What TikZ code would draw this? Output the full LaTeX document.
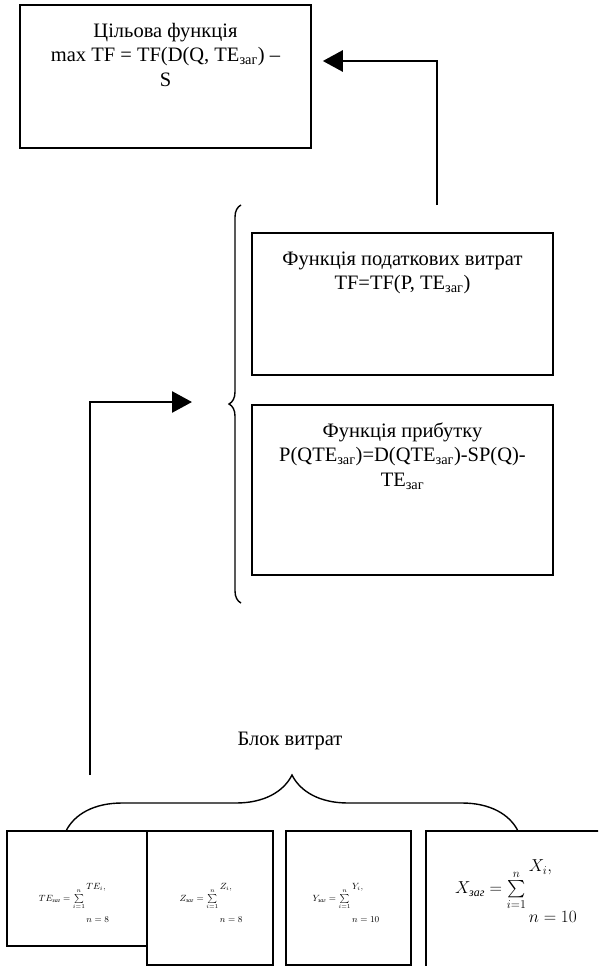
\documentclass[tikz,border=0pt]{standalone}
\usepackage{fontspec}
\setmainfont{Liberation Serif}
\usepackage{amsmath}
\usetikzlibrary{arrows.meta,decorations.pathreplacing}

\tikzset{
    fbox/.style={draw, line width=1.6pt, inner sep=0pt},
    conn/.style={line width=2.6pt, -{Triangle[length=20pt,width=21pt]}},
    brc/.style={decorate, decoration={brace, amplitude=#1}, line width=1.4pt},
    txt/.style={font=\fontsize{20.5}{24.5}\selectfont},
}
\newcommand{\zag}{\textsubscript{заг}}
\newcommand{\boxtxt}[3]{\parbox[c][#2][t]{#1}{\centering\rule{0pt}{32pt}#3}}
\newcommand{\sumf}[3][1.8em]{$#2_{\text{\itshape заг}}=\sum\limits_{i=1}^{n}\rlap{\raisebox{1.3em}{$#2_i,$}}\raisebox{-#1}{$n=#3$}$}

\begin{document}
\begin{tikzpicture}[x=1pt,y=-1pt]
        \useasboundingbox (0,0) rectangle (598,966);
        \clip (0,0) rectangle (598,966);

        %functions:
        \node[fbox, txt] (goal) at (165.5,76.5) {\boxtxt{291pt}{143pt}{Цільова функція\\ max TF = TF(D(Q, TE\zag) –\\ S}};
        \node[fbox, txt] (tax) at (402.5,304) {\boxtxt{301pt}{142pt}{Функція податкових витрат\\ TF=TF(P, TE\zag)}};
        \node[fbox, txt] (profit) at (402.5,490) {\boxtxt{301pt}{170pt}{Функція прибутку\\ P(QTE\zag)=D(QTE\zag)-SP(Q)-\\ TE\zag}};

        \draw[brc=12pt] (241,603) -- (241,205);
        \coordinate (bracetip) at (229,402);

        %costs:
        \foreach \x/\y/\w/\h/\n in {77/888.5/140/115/bte,210/898/126/134/bz,348.5/898/125/134/by,523/915.5/194/169/bx}{
            \node[fbox, minimum width=\w pt, minimum height=\h pt] (\n) at (\x,\y) {};
        }
        \foreach \x/\q/\m/\n in {74/TE/8/fte,211/Z/8/fz,346/Y/10/fy}{
            \node[font=\fontsize{9}{10}\selectfont] (\n) at (\x,903) {\sumf[2.4em]{\q}{\m}};
        }
        \node[font=\fontsize{17}{20}\selectfont] (fx) at (516,891) {\sumf[1.7em]{X}{10}};

        \draw[brc=56pt] (66,831) -- (518,831);
        \node[txt] (costlbl) at (290,741) {Блок витрат};

        %arrows:
        \coordinate (costfoot) at (90,775);
        \draw[conn, shorten >=37pt] (costfoot) |- (bracetip);
        \coordinate (topfoot) at (437,205);
        \coordinate (topbend) at (437,61);
        \draw[conn, shorten >=11pt] (topfoot) -- (topbend) -- (goal.east |- topbend);
    \end{tikzpicture}
\end{document}
